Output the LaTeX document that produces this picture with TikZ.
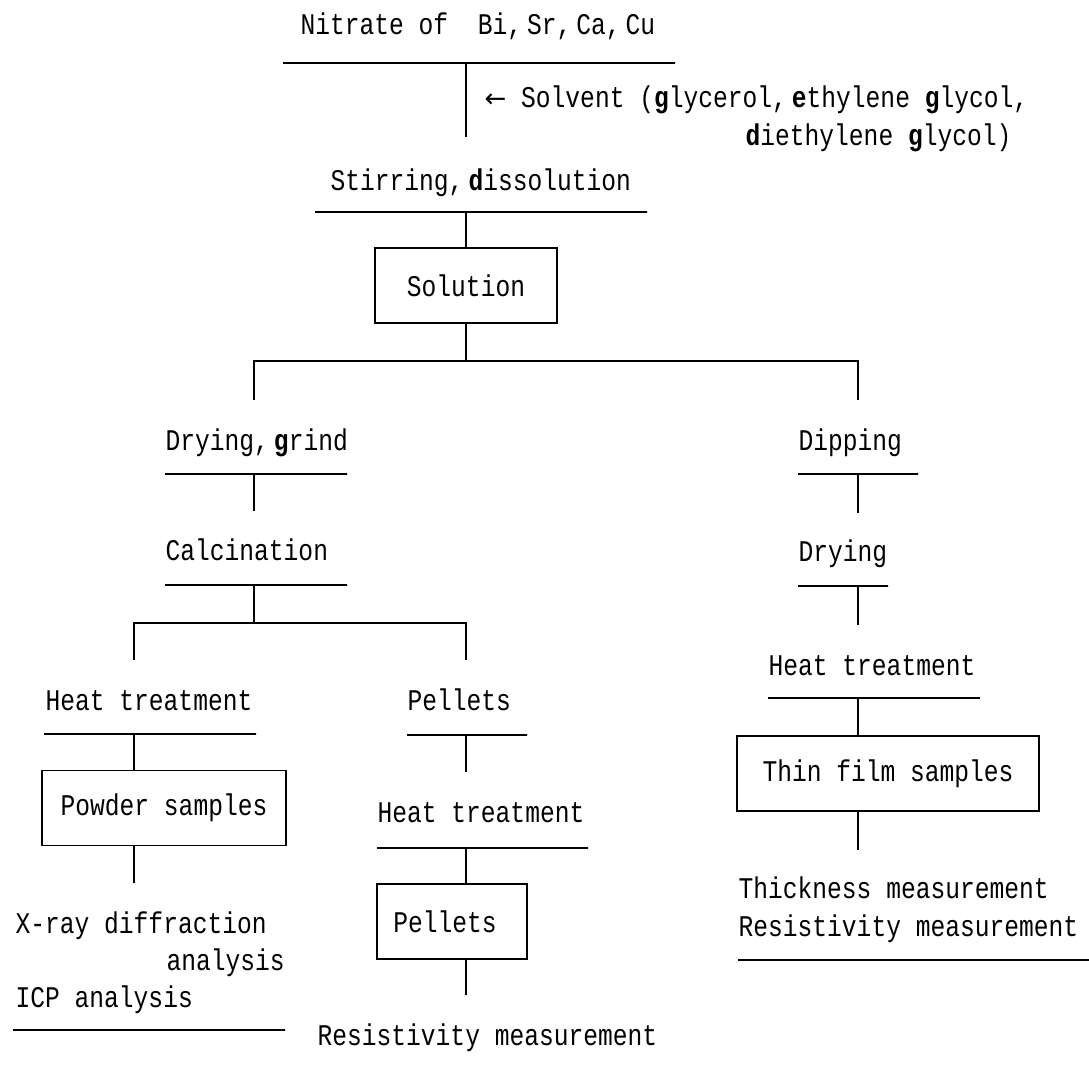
\documentclass[tikz,border=0pt]{standalone}
\usepackage{fontspec}
\newfontfamily\twfont[FakeStretch=0.82]{Liberation Mono}
\newfontfamily\symfont{DejaVu Sans}
\newcommand{\tw}{\fontsize{30pt}{36pt}\selectfont\twfont}
\newcommand{\hb}[1]{\textbf{#1}}

\begin{document}
\begin{tikzpicture}[x=1pt, y=-1pt, line width=1.3pt,
    every node/.style={font=\tw, inner sep=0pt},
    txt/.style={anchor=base west},
    rule/.style={draw, inner sep=0pt, minimum height=0pt, minimum width=#1},
    stagebox/.style={draw, minimum width=#1, minimum height=75pt}]
\useasboundingbox (0,0) rectangle (1089,1065);

% Nitrates and solvent
\node[txt] (nitrate) at (300,35) {Nitrate of~~Bi,\,Sr,\,Ca,\,Cu};
\node[rule=392] (b1) at (479,63) {};
\coordinate (s1) at (466,137);
\draw (b1 -| s1) -- (s1);
\node[txt] (solvent) at (484,107) {{\symfont\fontsize{26pt}{30pt}\selectfont ←}~Solvent (\hb{g}lycerol,\,\hb{e}thylene \hb{g}lycol,};
\node[txt] (solventb) at (745,145) {\hb{d}iethylene \hb{g}lycol)};

% Stirring and solution
\node[txt] (stirring) at (330,190) {Stirring,\,\hb{d}issolution};
\node[rule=332] (b2) at (481,212) {};
\node[stagebox=182] (solution) at (466,285.5) {Solution};
\draw (b2 -| solution) -- (solution);

% first fork
\coordinate (fork1) at (466,361);
\coordinate (f1L) at (254,400);
\coordinate (f1R) at (858,400);
\draw (solution) -- (fork1);
\draw (f1L) |- (fork1) -| (f1R);

% Powder route
\node[txt] (dryg) at (165,450) {Drying,\,\hb{g}rind};
\node[rule=182] (b3) at (256,474) {};
\coordinate (s3) at (254,511);
\draw (b3 -| s3) -- (s3);
\node[txt] (calc) at (165,560) {Calcination};
\node[rule=182] (b4) at (256,585) {};
\coordinate (fork2) at (254,623);
\coordinate (f2L) at (134,660);
\coordinate (f2R) at (466,660);
\draw (b4 -| fork2) -- (fork2);
\draw (f2L) |- (fork2) -| (f2R);

% Powder samples
\node[txt] (heatL) at (45,710) {Heat treatment};
\node[rule=212] (b5) at (150,734) {};
\node[stagebox=244] (powder) at (164,808) {Powder samples};
\draw (b5 -| f2L) -- (f2L |- powder.north);
\coordinate (s5) at (134,883);
\draw (powder.south -| s5) -- (s5);
\node[txt] (xray) at (15,933) {X-ray diffraction};
\node[txt] (anal) at (166,970) {analysis};
\node[txt] (icp) at (15,1007) {ICP analysis};
\node[rule=272] (b6) at (149,1030) {};

% Pellets
\node[txt] (pelA) at (407,710) {Pellets};
\node[rule=120] (b7) at (467,735) {};
\coordinate (s7) at (466,772);
\draw (b7 -| s7) -- (s7);
\node[txt] (heatM) at (377,822) {Heat treatment};
\node[rule=211] (b8) at (482.5,848) {};
\node[stagebox=150] (pelB) at (452,921.5) {Pellets\kern14pt};
\draw (b8 -| s7) -- (s7 |- pelB.north);
\coordinate (s9) at (466,995);
\draw (pelB.south -| s9) -- (s9);
\node[txt] (resM) at (317,1045) {Resistivity measurement};

% Thin film route
\node[txt] (dip) at (798,450) {Dipping};
\node[rule=120] (b9) at (858,474) {};
\coordinate (s10) at (858,513);
\draw (b9.south) -- (s10);
\node[txt] (dryR) at (798,561) {Drying};
\node[rule=90] (b10) at (843,586) {};
\coordinate (s11) at (858,625);
\draw (b10 -| s11) -- (s11);
\node[txt] (heatR) at (768,675) {Heat treatment};
\node[rule=212] (b11) at (874,698) {};
\node[stagebox=302] (film) at (888,773.5) {Thin film samples};
\draw (b11 -| s11) -- (s11 |- film.north);
\coordinate (s12) at (858,850);
\draw (film.south -| s12) -- (s12);
\node[txt] (thick) at (738,898) {Thickness measurement};
\node[txt] (resR) at (738,936) {Resistivity measurement};
\node[rule=351] (b12) at (913.5,960) {};
\end{tikzpicture}
\end{document}
